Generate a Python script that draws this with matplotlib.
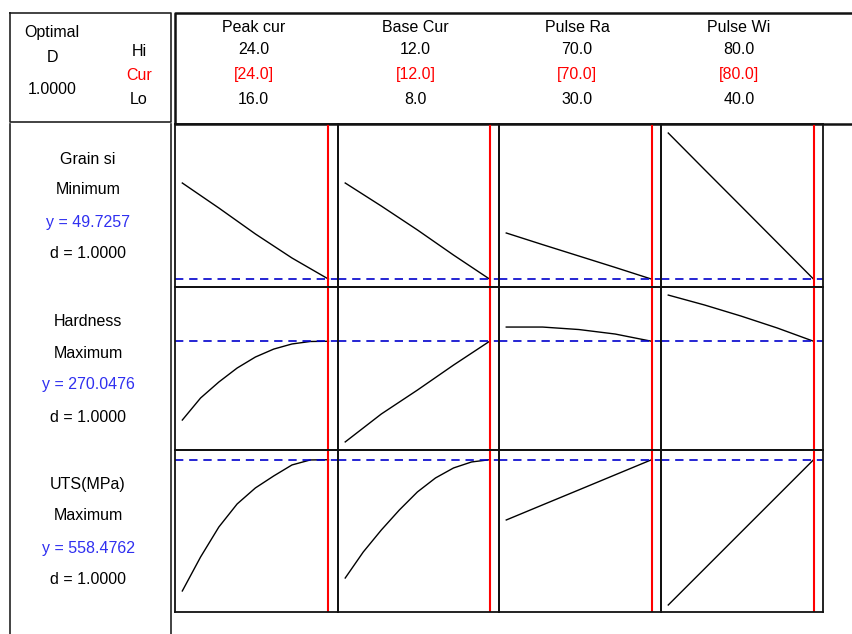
import matplotlib
matplotlib.use("Agg")
import matplotlib.pyplot as plt

plt.rcParams['font.family'] = ['Liberation Sans', 'DejaVu Sans']

# factors (columns)
factors = ["Peak cur", "Base Cur", "Pulse Ra", "Pulse Wi"]
hi_vals = [24.0, 12.0, 70.0, 80.0]
cur_vals = [24.0, 12.0, 70.0, 80.0]
lo_vals = [16.0, 8.0, 30.0, 40.0]

# responses (rows)
responses = ["Grain si", "Hardness", "UTS(MPa)"]
goals = ["Minimum", "Maximum", "Maximum"]
y_opt = [49.7257, 270.0476, 558.4762]
d_vals = [1.0, 1.0, 1.0]
y_ranges = [(49, 64), (200, 305), (300, 575)]

# curve x points per factor
x_peak5 = [16, 18, 20, 22, 24]
x_peak9 = [16, 17, 18, 19, 20, 21, 22, 23, 24]
x_base5 = [8, 9, 10, 11, 12]
x_base9 = [8, 8.5, 9, 9.5, 10, 10.5, 11, 11.5, 12]
x_ra = [30, 40, 50, 60, 70]
x_wi = [40, 50, 60, 70, 80]

# grain size predictions
grain_peak = [58.57, 56.27, 53.88, 51.67, 49.7257]
grain_base = [58.57, 56.45, 54.25, 51.94, 49.7257]
grain_ra = [53.97, 52.90, 51.85, 50.80, 49.7257]
grain_wi = [63.17, 59.80, 56.45, 53.09, 49.7257]

# hardness predictions
hard_peak = [219.3, 233.5, 243.8, 252.8, 259.9, 265.0, 268.3, 269.9, 270.0476]
hard_base = [205.2, 223.2, 238.6, 254.7, 270.0476]
hard_ra = [279.2, 279.2, 277.6, 274.7, 270.0476]
hard_wi = [299.8, 293.4, 286.3, 278.6, 270.0476]

# UTS predictions
uts_peak = [335.7, 393.4, 444.3, 483.4, 510.6, 530.9, 549.6, 558.1, 558.4762]
uts_base = [357.7, 401.9, 439.2, 473.2, 503.8, 527.5, 544.5, 554.7, 558.4762]
uts_ra = [456.2, 481.8, 507.3, 532.9, 558.4762]
uts_wi = [311.9, 373.5, 435.2, 496.8, 558.4762]

curves = [
    [(x_peak5, grain_peak), (x_base5, grain_base), (x_ra, grain_ra), (x_wi, grain_wi)],
    [(x_peak9, hard_peak), (x_base5, hard_base), (x_ra, hard_ra), (x_wi, hard_wi)],
    [(x_peak9, uts_peak), (x_base9, uts_base), (x_ra, uts_ra), (x_wi, uts_wi)],
]

W, H = 852, 634
fig = plt.figure(figsize=(W / 100, H / 100), dpi=100)

# overlay in pixel coords for boxes and text
ov = fig.add_axes([0, 0, 1, 1])
ov.set_xlim(0, W)
ov.set_ylim(H, 0)
ov.axis('off')

fs = 11.5
blue_txt = '#3030f0'
red = '#ff0000'

# header boxes
ov.plot([10, 171, 171, 10, 10], [13, 13, 122, 122, 13], color='#222222', lw=1.2)
ov.plot([10, 10], [124, H], color='#222222', lw=1.2)
ov.plot([171, 171], [124, H], color='#222222', lw=1.2)
ov.plot([W + 5, 175, 175, W + 5], [13, 13, 124, 124], color='#111111', lw=1.8)

ov.text(52, 33, "Optimal", ha='center', va='center', fontsize=fs)
ov.text(52, 57, "D", ha='center', va='center', fontsize=fs)
ov.text(52, 90, "1.0000", ha='center', va='center', fontsize=fs)
ov.text(139, 51, "Hi", ha='center', va='center', fontsize=fs)
ov.text(139, 75, "Cur", ha='center', va='center', fontsize=fs, color=red)
ov.text(139, 99, "Lo", ha='center', va='center', fontsize=fs)

col_left = [175, 338, 499, 661]
col_right = [338, 499, 661, 823]
row_top = [124, 287, 450]
row_bot = [287, 450, 612]

for j in range(4):
    cx = (col_left[j] + col_right[j]) / 2 - 3
    ov.text(cx, 27, factors[j], ha='center', va='center', fontsize=fs)
    ov.text(cx, 50, f"{hi_vals[j]:.1f}", ha='center', va='center', fontsize=fs)
    ov.text(cx, 74, f"[{cur_vals[j]:.1f}]", ha='center', va='center', fontsize=fs, color=red)
    ov.text(cx, 99, f"{lo_vals[j]:.1f}", ha='center', va='center', fontsize=fs)

label_dy = [35, 66, 98, 130]
for i in range(3):
    y0 = row_top[i]
    ov.text(88, y0 + label_dy[0], responses[i], ha='center', va='center', fontsize=fs)
    ov.text(88, y0 + label_dy[1], goals[i], ha='center', va='center', fontsize=fs)
    ov.text(88, y0 + label_dy[2], f"y = {y_opt[i]:.4f}", ha='center', va='center',
            fontsize=fs, color=blue_txt)
    ov.text(88, y0 + label_dy[3], f"d = {d_vals[i]:.4f}", ha='center', va='center', fontsize=fs)

# response panels
for i in range(3):
    for j in range(4):
        x0, x1 = col_left[j], col_right[j]
        y0, y1 = row_top[i], row_bot[i]
        ax = fig.add_axes([x0 / W, 1 - y1 / H, (x1 - x0) / W, (y1 - y0) / H])
        rng = hi_vals[j] - lo_vals[j]
        ax.set_xlim(lo_vals[j] - 0.05 * rng, hi_vals[j] + 0.065 * rng)
        ax.set_ylim(*y_ranges[i])
        ax.set_xticks([])
        ax.set_yticks([])
        for s in ax.spines.values():
            s.set_linewidth(1.3)
            s.set_color('#111111')
        ax.patch.set_alpha(0)
        xs, ys = curves[i][j]
        ax.plot(xs, ys, color='black', lw=1)
        ax.axhline(y_opt[i], color='#0000cc', lw=1.2, dashes=(5, 3.5))
        ax.axvline(cur_vals[j], color=red, lw=1.5)

fig.savefig("out.png", dpi=100)
